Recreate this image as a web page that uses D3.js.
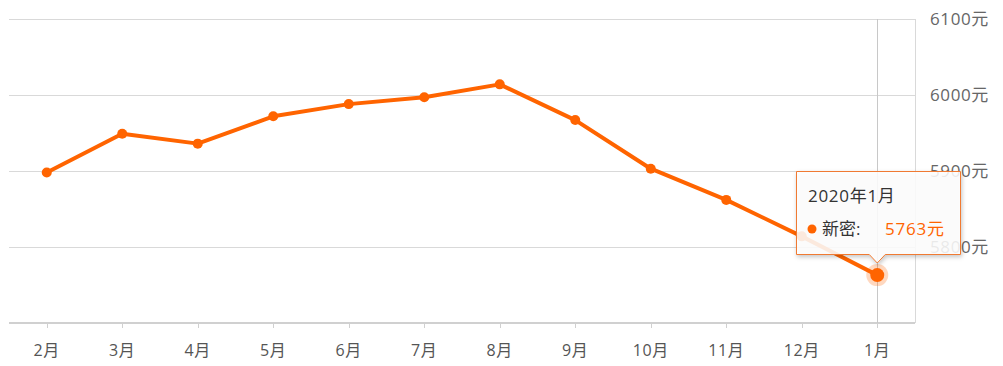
<!DOCTYPE html>
<html>
<head>
<meta charset="utf-8">
<script src="https://cdn.jsdelivr.net/npm/d3@7"></script>
<style>
  body { margin: 0; background: #fff; }
  svg text { font-family: "Open Sans", "Noto Sans CJK SC", sans-serif; }
</style>
</head>
<body>
<div id="chart"></div>
<script>
const months = ["2月", "3月", "4月", "5月", "6月", "7月", "8月", "9月", "10月", "11月", "12月", "1月"];
const prices = [5898, 5949, 5936, 5972, 5988, 5997, 6014, 5967, 5903, 5862, 5814, 5763];
const yTicks = [5800, 5900, 6000, 6100];
const tipTitle = "2020年1月";
const tipName = "新密";

const width = 1003, height = 366;
const plotL = 9, plotR = 915, plotT = 19, plotB = 323;
const orange = "#ff6400";

const svg = d3.select("#chart").append("svg")
  .attr("width", width)
  .attr("height", height);

const x = d3.scaleBand().domain(months).range([plotL, plotR]);
const y = d3.scaleLinear().domain([5700, 6100]).range([plotB, plotT]);
const cx = d => x(d) + x.bandwidth() / 2;

// grid lines
svg.append("g").selectAll("line")
  .data(yTicks)
  .join("line")
  .attr("x1", plotL).attr("x2", plotR)
  .attr("y1", d => Math.round(y(d)) + 0.5).attr("y2", d => Math.round(y(d)) + 0.5)
  .attr("stroke", "#d9d9d9");

// right border
svg.append("line")
  .attr("x1", plotR + 0.5).attr("x2", plotR + 0.5)
  .attr("y1", plotT).attr("y2", plotB)
  .attr("stroke", "#d9d9d9");

// y labels on right
svg.append("g").selectAll("text")
  .data(yTicks)
  .join("text")
  .attr("x", 930)
  .attr("y", d => y(d) + 6)
  .attr("font-size", 17)
  .attr("letter-spacing", 0.6)
  .attr("fill", "#666")
  .text(d => d + "元");

// x axis
svg.append("line")
  .attr("x1", plotL).attr("x2", plotR)
  .attr("y1", plotB).attr("y2", plotB)
  .attr("stroke", "#d0d0d0")
  .attr("stroke-width", 2);

svg.append("g").selectAll("line")
  .data(months)
  .join("line")
  .attr("x1", d => Math.round(cx(d)) + 0.5).attr("x2", d => Math.round(cx(d)) + 0.5)
  .attr("y1", plotB).attr("y2", plotB + 5)
  .attr("stroke", "#d0d0d0");

svg.append("g").selectAll("text")
  .data(months)
  .join("text")
  .attr("x", d => cx(d))
  .attr("y", 356)
  .attr("text-anchor", "middle")
  .attr("font-size", 16)
  .attr("letter-spacing", 0.6)
  .attr("fill", "#555")
  .text(d => d);

// crosshair
const last = months[months.length - 1];
svg.append("line")
  .attr("x1", Math.round(cx(last)) + 0.5).attr("x2", Math.round(cx(last)) + 0.5)
  .attr("y1", plotT).attr("y2", plotB)
  .attr("stroke", "#c8c8c8");

// line
const line = d3.line()
  .x((d, i) => cx(months[i]))
  .y(d => y(d));

svg.append("path")
  .datum(prices)
  .attr("d", line)
  .attr("fill", "none")
  .attr("stroke", orange)
  .attr("stroke-width", 4)
  .attr("stroke-linejoin", "round");

// halo on hovered point
svg.append("circle")
  .attr("cx", cx(last))
  .attr("cy", y(prices[prices.length - 1]))
  .attr("r", 11)
  .attr("fill", orange)
  .attr("fill-opacity", 0.25);

svg.append("g").selectAll("circle")
  .data(prices)
  .join("circle")
  .attr("cx", (d, i) => cx(months[i]))
  .attr("cy", d => y(d))
  .attr("r", (d, i) => i === prices.length - 1 ? 7 : 5)
  .attr("fill", orange);

// tooltip
const tx = 796, ty = 171, tw = 164, th = 83;
const ax = cx(last);
const tip = svg.append("g");
const tipPath = `M${tx + 0.5},${ty + 0.5}H${tx + tw + 0.5}V${ty + th + 0.5}H${ax + 8}L${ax},${ty + th + 9}L${ax - 8},${ty + th + 0.5}H${tx + 0.5}Z`;
const defs = svg.append("defs");
const f = defs.append("filter").attr("id", "sh").attr("x", "-10%").attr("y", "-10%").attr("width", "130%").attr("height", "140%");
f.append("feDropShadow").attr("dx", 1).attr("dy", 2).attr("stdDeviation", 2).attr("flood-color", "#000").attr("flood-opacity", 0.25);
tip.append("path")
  .attr("d", tipPath)
  .attr("fill", "rgba(255,255,255,0.85)")
  .attr("stroke", "#f07a30")
  .attr("filter", "url(#sh)");
tip.append("text")
  .attr("x", 808).attr("y", 202)
  .attr("font-size", 17)
  .attr("letter-spacing", 0.7)
  .attr("fill", "#333")
  .text(tipTitle);
tip.append("circle")
  .attr("cx", 812).attr("cy", 229)
  .attr("r", 4.5)
  .attr("fill", orange);
tip.append("text")
  .attr("x", 822).attr("y", 235)
  .attr("font-size", 17)
  .attr("fill", "#333")
  .text(tipName + ":");
tip.append("text")
  .attr("x", 885).attr("y", 235)
  .attr("font-size", 17)
  .attr("letter-spacing", 0.8)
  .attr("fill", orange)
  .text(prices[prices.length - 1] + "元");
</script>
</body>
</html>
